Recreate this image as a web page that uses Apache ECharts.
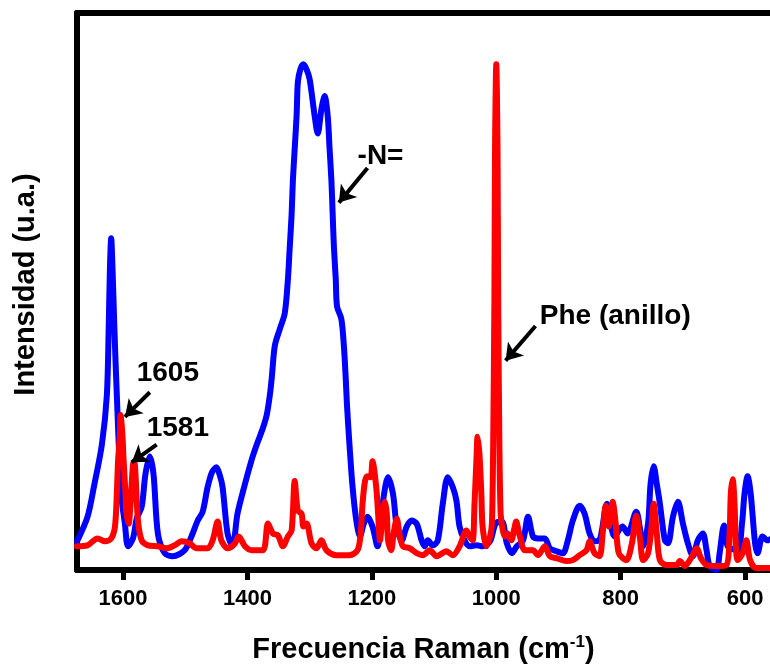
<!DOCTYPE html>
<html>
<head>
<meta charset="utf-8">
<script src="https://cdn.jsdelivr.net/npm/echarts@6/dist/echarts.min.js"></script>
<style>
html,body{margin:0;padding:0;background:#fff;}
#chart{width:770px;height:670px;}
</style>
</head>
<body>
<div id="chart"></div>
<script>
// Tick labels of the Raman shift axis (cm^-1)
var xTicks = [1600, 1400, 1200, 1000, 800, 600];

// Blue spectrum
var blueX = [1674,1657,1646,1634,1626,1623,1621,1619,1617,1614,1610,1603,1597,1592,1584,1578,1570,1564,1557,1551,1544,1533,1520,1501,1490,1480,1472,1464,1457,1450,1445,1440,1432,1424,1416,1404,1393,1385,1375,1369,1364,1361,1356,1348,1340,1335,1332,1329,1327,1324,1321,1319,1315,1310,1305,1300,1292,1287,1281,1276,1271,1268,1265,1263,1261,1258,1256,1249,1245,1242,1240,1236,1231,1225,1219,1213,1207,1199,1191,1182,1174,1166,1160,1152,1144,1136,1128,1120,1115,1110,1102,1094,1086,1078,1070,1064,1059,1051,1043,1031,1022,1010,1001,991,983,975,967,957,949,941,933,922,914,903,893,885,877,866,858,850,842,834,822,810,797,789,775,769,764,756,752,747,742,737,729,724,716,708,700,692,684,676,668,662,657,646,641,634,628,612,605,601,596,591,584,580,572,564,557];
var blueY = [29,54,87,127,177,247,307,336,307,247,177,77,47,24,32,52,64,97,115,97,37,17,14,20,34,50,59,84,99,104,97,84,37,24,57,87,112,127,144,157,177,194,227,244,260,294,327,360,394,427,460,494,507,512,507,497,460,442,467,480,460,427,394,360,327,294,267,254,227,194,167,127,84,50,34,47,54,44,24,70,94,77,44,30,44,50,47,30,24,30,25,30,67,94,84,70,44,30,24,25,24,29,47,49,27,17,24,30,54,34,32,32,22,19,17,30,50,65,57,37,29,30,67,34,44,37,59,42,24,47,87,105,87,67,30,27,54,69,47,27,14,30,37,20,4,0,17,45,24,20,47,77,95,77,27,17,34,30,32];

// Red spectrum
var redX = [1674,1657,1641,1629,1619,1613,1610,1608,1605,1604,1601,1599,1596,1595,1591,1588,1584,1582,1580,1576,1570,1560,1544,1530,1517,1506,1493,1482,1464,1456,1448,1442,1432,1420,1414,1404,1393,1375,1367,1359,1351,1343,1335,1329,1324,1319,1313,1310,1305,1297,1289,1281,1273,1257,1236,1223,1218,1215,1211,1207,1202,1199,1193,1190,1187,1182,1179,1176,1174,1169,1165,1160,1155,1150,1139,1128,1118,1107,1096,1080,1070,1059,1048,1043,1038,1035,1032,1030,1027,1024,1022,1016,1010,1007,1005,1003,1002,1000,998,997,995,993,990,986,982,976,971,968,965,962,954,941,933,922,914,903,887,877,866,855,850,842,834,829,824,819,813,808,803,791,782,775,769,764,756,750,747,742,737,726,710,705,697,687,678,671,662,646,630,625,623,620,617,615,612,604,598,592,582,557];
var redY = [24,25,32,29,32,44,77,110,137,157,137,110,77,60,47,67,107,110,97,50,30,25,24,22,25,29,27,22,22,30,49,30,22,27,34,24,20,20,47,37,35,24,34,40,90,60,57,44,47,27,22,30,20,15,15,20,37,67,90,95,94,110,84,57,30,62,69,57,30,20,37,52,34,24,22,17,15,20,14,19,15,24,40,34,30,67,110,135,117,77,44,24,34,47,127,277,427,512,427,277,127,57,42,34,37,30,42,49,42,34,20,20,15,24,14,12,9,10,15,20,29,17,14,37,65,44,69,47,17,10,27,55,32,10,17,47,67,37,10,5,5,9,4,12,22,12,5,4,5,37,77,92,67,27,10,17,30,10,2,2];

// Annotation arrows: tails and heads
var arrowTails = [[1207, 407], [937, 247], [1557, 180], [1546, 127]];
var arrowHeads = [[1253, 372], [985, 212], [1597, 155], [1586, 109]];
// Annotation texts anchored at their left-middle point
var noteTexts = ['-N=', 'Phe (anillo)', '1605', '1581'];
var notePos = [[1223, 419], [930, 257], [1578, 199], [1562, 143]];

function zip(a, b) { return a.map(function (v, i) { return [v, b[i]]; }); }

var FONT = 'Liberation Sans, Arial, sans-serif';
var chart = echarts.init(document.getElementById('chart'), null, {renderer: 'canvas'});

var markLineData = arrowTails.map(function (t, i) {
  return [{coord: t}, {coord: arrowHeads[i]}];
});
var noteData = notePos.map(function (p, i) { return [p[0], p[1], noteTexts[i]]; });

chart.setOption({
  animation: false,
  backgroundColor: '#fff',
  grid: {left: 77, right: 0, top: 13, bottom: 93},
  xAxis: [{
    type: 'value', inverse: true, min: 560, max: 1674,
    axisLine: {show: true, onZero: false, lineStyle: {color: '#000', width: 6}},
    axisTick: {show: true, length: 10, inside: false, customValues: xTicks, lineStyle: {color: '#000', width: 5}},
    axisLabel: {show: true, customValues: xTicks, margin: 18, color: '#000', fontSize: 22, fontWeight: 'bold', fontFamily: FONT,
      formatter: function (v) { return String(v); }},
    splitLine: {show: false},
    name: '{a|Frecuencia Raman (cm}{s|-1}{a|)}',
    nameLocation: 'middle', nameGap: 64,
    nameTextStyle: {
      rich: {
        a: {fontSize: 29, fontWeight: 'bold', fontFamily: FONT, color: '#000', lineHeight: 32},
        s: {fontSize: 17, fontWeight: 'bold', fontFamily: FONT, color: '#000', verticalAlign: 'top', lineHeight: 32, padding: [0, 0, 14, 0]}
      }
    }
  }, {
    type: 'value', inverse: true, min: 560, max: 1674, position: 'top',
    axisLine: {show: true, onZero: false, lineStyle: {color: '#000', width: 6}},
    axisTick: {show: false}, axisLabel: {show: false}, splitLine: {show: false}
  }],
  yAxis: {
    type: 'value', min: 0, max: 564,
    axisLine: {show: true, onZero: false, lineStyle: {color: '#000', width: 6}},
    axisTick: {show: false}, axisLabel: {show: false}, splitLine: {show: false},
    name: 'Intensidad (u.a.)', nameLocation: 'middle', nameGap: 37,
    nameTextStyle: {fontSize: 29, fontWeight: 'bold', fontFamily: FONT, color: '#000', padding: [0, 0, 0, 14]}
  },
  series: [{
    type: 'line', name: 'blue', data: zip(blueX, blueY), showSymbol: false, smooth: 0.3,
    lineStyle: {color: '#0000ff', width: 6, cap: 'round', join: 'round'}, silent: true, z: 2
  }, {
    type: 'line', name: 'red', data: zip(redX, redY), showSymbol: false, smooth: 0.3,
    lineStyle: {color: '#ff0000', width: 6, cap: 'round', join: 'round'}, silent: true, z: 3
  }, {
    type: 'scatter', data: noteData, symbolSize: 0, silent: true, z: 5,
    itemStyle: {opacity: 1},
    label: {show: true, position: 'right', distance: 0, formatter: function (p) { return p.data[2]; },
      color: '#000', opacity: 1, fontSize: 28, fontWeight: 'bold', fontFamily: FONT},
    markLine: {
      silent: true, symbol: ['none', 'arrow'], symbolSize: 16, animation: false,
      label: {show: false},
      lineStyle: {color: '#000', width: 4, type: 'solid', opacity: 1},
      itemStyle: {color: '#000'},
      emphasis: {disabled: true},
      data: markLineData
    }
  }]
});
</script>
</body>
</html>
